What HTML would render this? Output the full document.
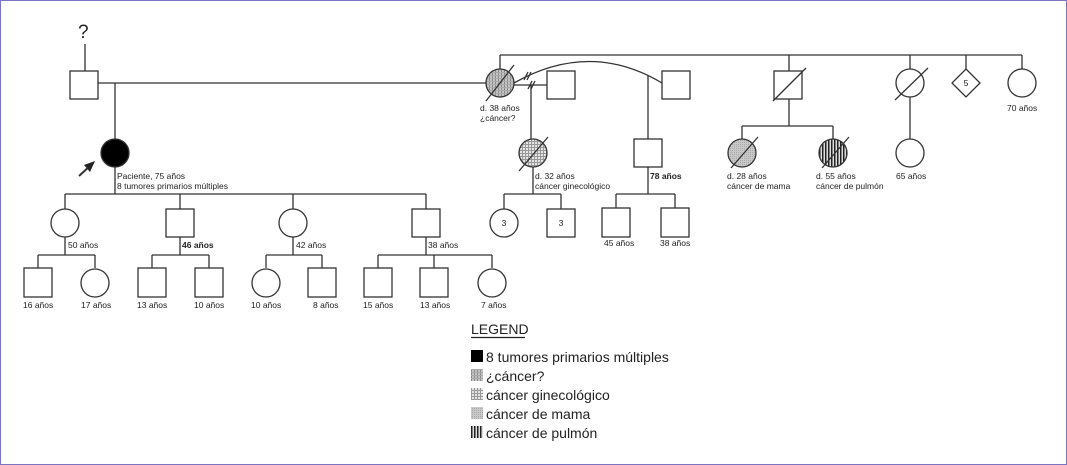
<!DOCTYPE html>
<html><head><meta charset="utf-8"><style>
html,body{margin:0;padding:0;background:#fff}
svg{display:block}
text{font-family:"Liberation Sans",sans-serif;fill:#222}
</style></head><body>
<svg width="1067" height="465" viewBox="0 0 1067 465" xmlns="http://www.w3.org/2000/svg">
<defs>
<pattern id="pq" width="3" height="3" patternUnits="userSpaceOnUse"><rect width="3" height="3" fill="#c4c4c4"/><rect width="1" height="3" fill="#8a8a8a"/><rect width="3" height="1" fill="#aaa"/></pattern>
<pattern id="pg" width="3" height="3" patternUnits="userSpaceOnUse"><rect width="3" height="3" fill="#e4e4e4"/><rect width="1" height="3" fill="#999"/><rect width="3" height="1" fill="#999"/></pattern>
<pattern id="pm" width="2" height="2" patternUnits="userSpaceOnUse"><rect width="2" height="2" fill="#c8c8c8"/><rect width="1" height="1" fill="#aaa"/></pattern>
<pattern id="pp" width="3" height="3" patternUnits="userSpaceOnUse"><rect width="3" height="3" fill="#ddd"/><rect width="1.5" height="3" fill="#222"/></pattern>
</defs>
<rect x="0.5" y="0.5" width="1066" height="464" fill="#fff" stroke="#7b74c0" stroke-width="1"/>
<g stroke="#333" stroke-width="1.3" fill="none">
<line x1="85" y1="44" x2="85" y2="71"/>
<rect x="70" y="71" width="28" height="28" fill="#fff"/>
<line x1="98" y1="83" x2="486" y2="83"/>
<line x1="115" y1="83" x2="115" y2="139"/>
<circle cx="115" cy="153" r="14" fill="#000"/>
<line x1="115" y1="167" x2="115" y2="194"/>
<line x1="79" y1="176" x2="91" y2="165" stroke-width="2"/>
<line x1="65" y1="194" x2="426" y2="194"/>
<line x1="65" y1="194" x2="65" y2="209"/><line x1="180" y1="194" x2="180" y2="209"/><line x1="293" y1="194" x2="293" y2="209"/><line x1="426" y1="194" x2="426" y2="209"/>
<circle cx="65" cy="223" r="14" fill="#fff"/>
<rect x="166" y="209" width="28" height="28" fill="#fff"/>
<circle cx="293" cy="223" r="14" fill="#fff"/>
<rect x="412" y="209" width="28" height="28" fill="#fff"/>
<line x1="65" y1="237" x2="65" y2="255"/><line x1="180" y1="237" x2="180" y2="255"/><line x1="293" y1="237" x2="293" y2="255"/><line x1="426" y1="237" x2="426" y2="255"/>
<line x1="38" y1="255" x2="95" y2="255"/><line x1="152" y1="255" x2="209" y2="255"/><line x1="266" y1="255" x2="322" y2="255"/><line x1="378" y1="255" x2="492" y2="255"/>
<line x1="38" y1="255" x2="38" y2="268"/><line x1="95" y1="255" x2="95" y2="268"/><line x1="152" y1="255" x2="152" y2="268"/><line x1="209" y1="255" x2="209" y2="268"/><line x1="266" y1="255" x2="266" y2="268"/><line x1="322" y1="255" x2="322" y2="268"/><line x1="378" y1="255" x2="378" y2="268"/><line x1="434" y1="255" x2="434" y2="268"/><line x1="492" y1="255" x2="492" y2="268"/>
<rect x="24" y="268" width="28" height="29" fill="#fff"/>
<circle cx="95" cy="283" r="14" fill="#fff"/>
<rect x="138" y="268" width="28" height="29" fill="#fff"/>
<rect x="195" y="268" width="28" height="29" fill="#fff"/>
<circle cx="266" cy="283" r="14" fill="#fff"/>
<rect x="308" y="268" width="28" height="29" fill="#fff"/>
<rect x="364" y="268" width="28" height="29" fill="#fff"/>
<rect x="420" y="268" width="28" height="29" fill="#fff"/>
<circle cx="492" cy="283" r="14" fill="#fff"/>
<line x1="500" y1="55" x2="1022" y2="55"/>
<line x1="500" y1="55" x2="500" y2="69"/>
<circle cx="500" cy="83" r="14" fill="url(#pq)"/>
<line x1="486" y1="101" x2="514" y2="65"/>
<line x1="514" y1="85" x2="547" y2="85"/>
<rect x="547" y="71" width="28" height="28" fill="#fff"/>
<path d="M514 83 Q590 40 662 83"/>
<line x1="524" y1="80" x2="528" y2="72"/><line x1="527" y1="80" x2="531" y2="72"/>
<line x1="528" y1="89" x2="532" y2="81"/><line x1="531" y1="89" x2="535" y2="81"/>
<rect x="662" y="71" width="28" height="28" fill="#fff"/>
<line x1="531" y1="85" x2="531" y2="139"/>
<circle cx="533" cy="153" r="14" fill="url(#pg)"/>
<line x1="519" y1="171" x2="548" y2="137"/>
<line x1="533" y1="167" x2="533" y2="194"/>
<line x1="504" y1="194" x2="561" y2="194"/>
<line x1="504" y1="194" x2="504" y2="209"/><line x1="561" y1="194" x2="561" y2="209"/>
<circle cx="504" cy="223" r="14" fill="#fff"/>
<rect x="547" y="209" width="28" height="28" fill="#fff"/>
<line x1="648" y1="76" x2="648" y2="139"/>
<rect x="634" y="139" width="28" height="28" fill="#fff"/>
<line x1="648" y1="167" x2="648" y2="194"/>
<line x1="616" y1="194" x2="675" y2="194"/>
<line x1="616" y1="194" x2="616" y2="208"/><line x1="675" y1="194" x2="675" y2="208"/>
<rect x="602" y="208" width="28" height="29" fill="#fff"/>
<rect x="661" y="208" width="28" height="29" fill="#fff"/>
<line x1="789" y1="55" x2="789" y2="71"/>
<rect x="774" y="71" width="28" height="28" fill="#fff"/>
<line x1="773" y1="101" x2="806" y2="68"/>
<line x1="789" y1="99" x2="789" y2="126"/>
<line x1="742" y1="126" x2="833" y2="126"/>
<line x1="742" y1="126" x2="742" y2="139"/><line x1="833" y1="126" x2="833" y2="139"/>
<circle cx="742" cy="153" r="14" fill="url(#pm)"/>
<line x1="731" y1="168" x2="758" y2="137"/>
<circle cx="833" cy="153" r="14" fill="url(#pp)"/>
<line x1="822" y1="168" x2="849" y2="137"/>
<line x1="910" y1="55" x2="910" y2="69"/>
<circle cx="910" cy="83" r="14" fill="#fff"/>
<line x1="895" y1="100" x2="928" y2="68"/>
<line x1="910" y1="97" x2="910" y2="139"/>
<circle cx="910" cy="153" r="14" fill="#fff"/>
<line x1="966" y1="55" x2="966" y2="69"/>
<polygon points="966,69 980,83 966,97 952,83" fill="#fff"/>
<line x1="1022" y1="55" x2="1022" y2="69"/>
<circle cx="1022" cy="83" r="14" fill="#fff"/>
</g>
<polygon points="95,161 84,165 90,172" fill="#222"/>
<g font-size="8.5">
<text x="78" y="38" font-size="19">?</text>
<text x="117" y="179">Paciente, 75 años</text>
<text x="117" y="189">8 tumores primarios múltiples</text>
<text x="68" y="248">50 años</text><text x="182" y="248" font-weight="bold">46 años</text><text x="296" y="248">42 años</text><text x="428" y="248">38 años</text>
<text x="23" y="308">16 años</text><text x="81" y="308">17 años</text><text x="137" y="308">13 años</text><text x="194" y="308">10 años</text><text x="251" y="308">10 años</text><text x="313" y="308">8 años</text><text x="363" y="308">15 años</text><text x="420" y="308">13 años</text><text x="481" y="308">7 años</text>
<text x="480" y="111">d. 38 años</text><text x="480" y="121">¿cáncer?</text>
<text x="535" y="179">d. 32 años</text><text x="535" y="189">cáncer ginecológico</text>
<text x="650" y="179" font-weight="bold">78 años</text>
<text x="604" y="246">45 años</text><text x="660" y="246">38 años</text>
<text x="504" y="226" text-anchor="middle">3</text><text x="561" y="226" text-anchor="middle">3</text>
<text x="727" y="179">d. 28 años</text><text x="727" y="189">cáncer de mama</text>
<text x="816" y="179">d. 55 años</text><text x="816" y="189">cáncer de pulmón</text>
<text x="896" y="179">65 años</text>
<text x="966" y="86" text-anchor="middle">5</text>
<text x="1007" y="111">70 años</text>
</g>
<g font-size="14">
<text x="471" y="334">LEGEND</text>
<line x1="471" y1="337.5" x2="525" y2="337.5" stroke="#222" stroke-width="1.3"/>
<rect x="471" y="350" width="12" height="12" fill="#000"/><text x="486" y="362">8 tumores primarios múltiples</text>
<rect x="471" y="369" width="12" height="12" fill="url(#pq)"/><text x="486" y="381">¿cáncer?</text>
<rect x="471" y="388" width="12" height="12" fill="url(#pg)"/><text x="486" y="400">cáncer ginecológico</text>
<rect x="471" y="407" width="12" height="12" fill="url(#pm)"/><text x="486" y="419">cáncer de mama</text>
<rect x="471" y="426" width="12" height="12" fill="url(#pp)"/><text x="486" y="438">cáncer de pulmón</text>
</g>
</svg>
</body></html>
